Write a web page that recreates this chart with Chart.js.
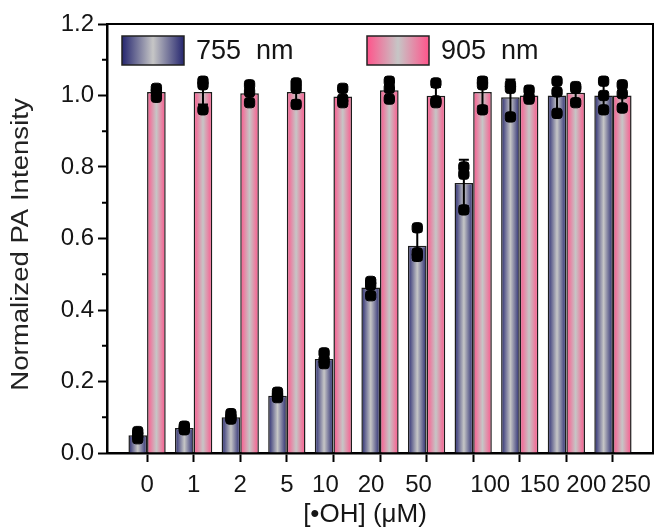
<!DOCTYPE html>
<html>
<head>
<meta charset="utf-8">
<script src="https://cdn.jsdelivr.net/npm/chart.js@4.4.1/dist/chart.umd.min.js"></script>
<style>
    html, body { margin: 0; padding: 0; background: #fff; }
</style>
</head>
<body>
<canvas id="pa-chart" width="660" height="531"></canvas>
<script>
//======================================================================================================================
// Data: PA intensity vs. [•OH]
//======================================================================================================================

var concentrations = ['0', '1', '2', '5', '10', '20', '50', '100', '150', '200', '250'];

var mean755 = [0.05, 0.07, 0.10, 0.16, 0.263, 0.463, 0.58, 0.755, 0.995, 1.0, 1.0];
var sd755   = [0.01, 0.008, 0.01, 0.01, 0.015, 0.02, 0.04, 0.065, 0.05, 0.045, 0.04];
var reps755 = [
    [0.04, 0.05, 0.06], [0.065, 0.07, 0.075], [0.095, 0.10, 0.11], [0.155, 0.16, 0.17],
    [0.25, 0.26, 0.28], [0.44, 0.47, 0.48], [0.55, 0.56, 0.63], [0.68, 0.78, 0.80],
    [0.94, 1.02, 1.03], [0.95, 1.01, 1.04], [0.96, 1.0, 1.04]
];

var mean905 = [1.01, 1.01, 1.006, 1.01, 0.997, 1.015, 0.999, 1.01, 1.0, 1.008, 1.0];
var sd905   = [0.01, 0.035, 0.025, 0.025, 0.02, 0.025, 0.025, 0.04, 0.015, 0.02, 0.03];
var reps905 = [
    [0.995, 1.01, 1.02], [0.96, 1.03, 1.04], [0.98, 1.01, 1.03], [0.975, 1.02, 1.035],
    [0.98, 0.99, 1.02], [0.99, 1.02, 1.04], [0.98, 0.985, 1.035], [0.96, 1.03, 1.04],
    [0.99, 0.995, 1.015], [0.98, 1.02, 1.025], [0.965, 1.005, 1.03]
];

var yTicks = [0, 0.2, 0.4, 0.6, 0.8, 1.0, 1.2];

//======================================================================================================================
// Styling helpers
//======================================================================================================================

var FONT = '"Liberation Sans", Arial, sans-serif';
var TEXT = '#151515';
var NAVY = '#25266f';
var PINK = '#ff548b';
var MID  = '#c6c6c6';
var GROUP = 0.8;

// tick label nudges (px) for the x axis
var labelShift = [0, 0, 0, 0, -8, -9, -8, 17, 20, 20, 18];

function edgeGradient(c, x0, x1, edge) {
    var g = c.createLinearGradient(x0, 0, x1, 0);
    g.addColorStop(0, edge);
    g.addColorStop(0.5, MID);
    g.addColorStop(1, edge);
    return g;
}

function points(reps, dx) {
    var out = [];
    reps.forEach(function(r, i) {
        r.forEach(function(v) { out.push({x: i + dx, y: v}); });
    });
    return out;
}

function bars(means) {
    return means.map(function(v, i) { return {x: i, y: v}; });
}

//======================================================================================================================
// Plugins: bar shading, error bars, frame, minor ticks, axis text, legend
//======================================================================================================================

// swap each bar's flat colour for a left-right shaded one once the bars have their geometry
var barShading = {
    id: 'barShading',
    beforeDatasetsDraw: function(chart) {
        [NAVY, PINK].forEach(function(edge, di) {
            chart.getDatasetMeta(di).data.forEach(function(bar) {
                var left = bar.x - bar.width / 2;
                if (!isFinite(left)) return;
                bar.options = Object.assign({}, bar.options, {
                    backgroundColor: edgeGradient(chart.ctx, left, left + bar.width, edge)
                });
            });
        });
    }
};

var errorBars = {
    id: 'errorBars',
    afterDatasetsDraw: function(chart) {
        var c = chart.ctx, y = chart.scales.y;
        [[mean755, sd755], [mean905, sd905]].forEach(function(set, di) {
            chart.getDatasetMeta(di).data.forEach(function(bar, i) {
                var hi = y.getPixelForValue(set[0][i] + set[1][i]);
                var lo = y.getPixelForValue(set[0][i] - set[1][i]);
                c.save();
                c.strokeStyle = '#000';
                c.lineWidth = 2;
                c.beginPath();
                c.moveTo(bar.x, hi); c.lineTo(bar.x, lo);
                c.moveTo(bar.x - 5, hi); c.lineTo(bar.x + 5, hi);
                c.moveTo(bar.x - 5, lo); c.lineTo(bar.x + 5, lo);
                c.stroke();
                c.restore();
            });
        });
    }
};

var frame = {
    id: 'frame',
    afterDraw: function(chart) {
        var c = chart.ctx, a = chart.chartArea, y = chart.scales.y, x = chart.scales.x;
        c.save();
        c.strokeStyle = '#000';
        c.lineWidth = 2;
        c.beginPath();
        c.moveTo(a.left, a.top); c.lineTo(a.right, a.top); c.lineTo(a.right, a.bottom);
        // minor ticks between the labelled ones
        for (var i = 0; i < yTicks.length - 1; i++) {
            var py = y.getPixelForValue((yTicks[i] + yTicks[i + 1]) / 2);
            c.moveTo(a.left - 5, py); c.lineTo(a.left, py);
        }
        c.stroke();

        // x tick labels and title
        c.fillStyle = TEXT;
        c.font = '24px ' + FONT;
        c.textAlign = 'center';
        c.textBaseline = 'middle';
        concentrations.forEach(function(lab, i) {
            c.fillText(lab, x.getPixelForValue(i) + labelShift[i], a.bottom + 32);
        });
        c.font = '26px ' + FONT;
        c.fillText('[•OH] (μM)', (a.left + a.right) / 2 - 15, a.bottom + 62);

        // y title, drawn a little long along its baseline
        c.font = '23px ' + FONT;
        c.fillStyle = '#222';
        c.translate(22, (a.top + a.bottom) / 2 + 6);
        c.rotate(-Math.PI / 2);
        c.scale(1.2, 1);
        c.fillText('Normalized PA Intensity', 0, 0);
        c.restore();
    }
};

var swatchLegend = {
    id: 'swatchLegend',
    afterDraw: function(chart) {
        var c = chart.ctx, a = chart.chartArea;
        var items = [[chart.data.datasets[0].label, NAVY, 15], [chart.data.datasets[1].label, PINK, 260]];
        c.save();
        items.forEach(function(it) {
            var sx = a.left + it[2], sy = a.top + 12, w = 62, h = 29;
            c.fillStyle = edgeGradient(c, sx, sx + w, it[1]);
            c.fillRect(sx, sy, w, h);
            c.strokeStyle = '#222';
            c.lineWidth = 1.5;
            c.strokeRect(sx, sy, w, h);
            c.fillStyle = TEXT;
            c.font = '27px ' + FONT;
            c.textAlign = 'left';
            c.textBaseline = 'middle';
            c.fillText(it[0], sx + w + 12, sy + h / 2 + 1);
        });
        c.restore();
    }
};

//======================================================================================================================
// Chart
//======================================================================================================================

new Chart(document.getElementById('pa-chart'), {
    type: 'bar',
    data: {
        datasets: [{
            label: '755  nm',
            data: bars(mean755),
            backgroundColor: NAVY,
            borderColor: '#1c1c1c',
            borderWidth: 1.5,
            barPercentage: 1,
            categoryPercentage: GROUP,
            order: 2
        }, {
            label: '905  nm',
            data: bars(mean905),
            backgroundColor: PINK,
            borderColor: '#1c1c1c',
            borderWidth: 1.5,
            barPercentage: 1,
            categoryPercentage: GROUP,
            order: 2
        }, {
            type: 'scatter',
            data: points(reps755, -GROUP / 4),
            pointStyle: 'rectRounded',
            pointRadius: 6,
            backgroundColor: '#000',
            borderColor: '#000',
            order: 1
        }, {
            type: 'scatter',
            data: points(reps905, GROUP / 4),
            pointStyle: 'rectRounded',
            pointRadius: 6,
            backgroundColor: '#000',
            borderColor: '#000',
            order: 1
        }]
    },
    options: {
        responsive: false,
        animation: false,
        layout: { padding: { top: 24, right: 6, left: 0, bottom: 0 } },
        plugins: {
            legend: { display: false },
            tooltip: { enabled: false }
        },
        scales: {
            x: {
                type: 'linear',
                offset: false,
                min: -0.86,
                max: 10.86,
                afterBuildTicks: function(scale) {
                    scale.ticks = concentrations.map(function(_, i) { return {value: i}; });
                },
                afterFit: function(scale) { scale.height = 78; },
                ticks: { display: false },
                grid: { offset: false, drawOnChartArea: false, drawTicks: true, tickLength: 9, tickWidth: 2, tickColor: '#000' },
                border: { display: true, width: 2.5, color: '#000' }
            },
            y: {
                min: 0,
                max: 1.2,
                afterBuildTicks: function(scale) {
                    scale.ticks = yTicks.map(function(v) { return {value: v}; });
                },
                afterFit: function(scale) { scale.width = 107; },
                ticks: {
                    padding: 4,
                    color: TEXT,
                    font: { family: FONT, size: 24 },
                    callback: function(v) { return v.toFixed(1); }
                },
                grid: { drawOnChartArea: false, drawTicks: true, tickLength: 9, tickWidth: 2, tickColor: '#000' },
                border: { display: true, width: 2.5, color: '#000' }
            }
        }
    },
    plugins: [barShading, errorBars, frame, swatchLegend]
});
</script>
</body>
</html>
